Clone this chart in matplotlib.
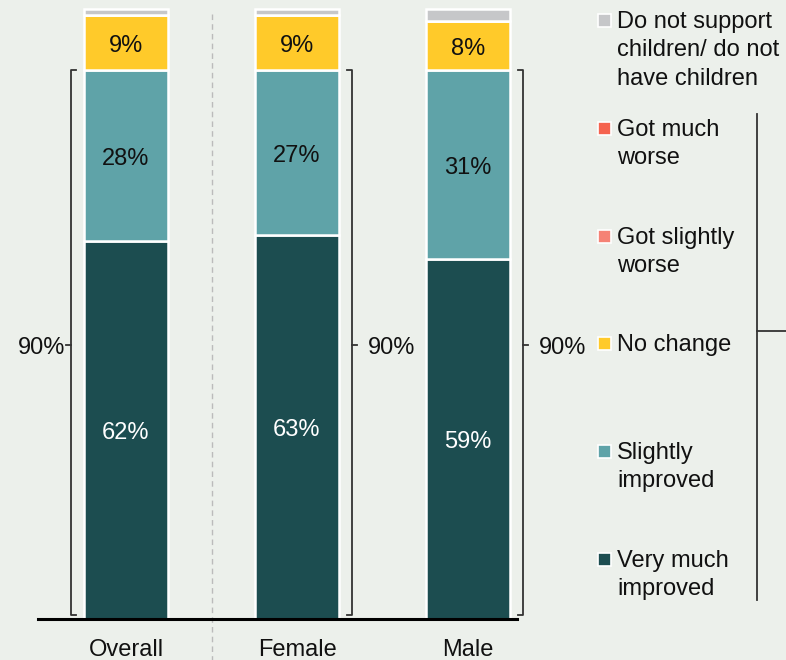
import numpy as np
import matplotlib
matplotlib.use('Agg')
import matplotlib.pyplot as plt

plt.rcParams['font.family'] = ['Liberation Sans', 'DejaVu Sans']

groups = ['Overall', 'Female', 'Male']
veryImproved = [62, 63, 59]
slightImproved = [28, 27, 31]
noChange = [9, 9, 8]
slightWorse = [0, 0, 0]
muchWorse = [0, 0, 0]
noChildren = [1, 1, 2]
improvedTotal = ['90%', '90%', '90%']

legendLabels = ['Do not support\nchildren/ do not\nhave children', 'Got much\nworse',
                'Got slightly\nworse', 'No change', 'Slightly\nimproved', 'Very much\nimproved']

bg = '#ECF0EB'
cDark = '#1C4D50'
cTeal = '#5FA3A8'
cYellow = '#FFCA2A'
cSalmon = '#F58275'
cRed = '#F5634F'
cGray = '#C6C7C9'

fig = plt.figure(figsize=(7.86, 6.6), dpi=100)
fig.patch.set_facecolor(bg)
ax = fig.add_axes([0, 0, 1, 1])
ax.set_facecolor(bg)
ax.axis('off')
ax.set_xlim(-126 / 171, 660 / 171)
ax.set_ylim(-41 / 6.1, 100 + 9 / 6.1)

x = np.arange(len(groups))
w = 0.49
fs = 17
dy = -0.55  # text nudge so label centres sit like the original

series = [(veryImproved, cDark, 'white'), (slightImproved, cTeal, '#111111'),
          (noChange, cYellow, '#111111'), (slightWorse, cSalmon, '#111111'),
          (muchWorse, cRed, '#111111'), (noChildren, cGray, '#111111')]
bottom = np.zeros(len(groups))
for vals, col, tcol in series:
    vals = np.array(vals, dtype=float)
    ax.bar(x, vals, w, bottom=bottom, color=col, edgecolor='white', linewidth=1.8, zorder=3)
    for i in range(len(groups)):
        if vals[i] >= 5:
            ax.text(x[i], bottom[i] + vals[i] / 2 + dy, '%d%%' % vals[i], ha='center', va='center',
                    fontsize=fs, color=tcol, zorder=4)
    bottom += vals

# baseline and divider
ax.plot([-0.515, 2.287], [0, 0], color='black', lw=2.2, zorder=5)
ax.plot([0.5, 0.5], [99.2, -7], color='#BBBBBB', lw=1, ls=(0, (4, 3)), zorder=1)

# brackets for improved share
off = 0.322
tick = 0.03
for i in range(len(groups)):
    top = veryImproved[i] + slightImproved[i]
    side = -1 if i == 0 else 1
    bx = x[i] + side * off
    ax.plot([bx - side * tick, bx, bx, bx - side * tick], [0.6, 0.6, top, top],
            color='#333333', lw=1.3, zorder=2)
    ax.plot([bx, bx + side * tick], [top / 2, top / 2], color='#333333', lw=1.3, zorder=2)
    gap = 0.035 if side < 0 else 0.094
    ax.text(bx + side * gap, top / 2 + dy, improvedTotal[i], ha='right' if side < 0 else 'left',
            va='center', fontsize=fs, color='#111111')

for i, g in enumerate(groups):
    ax.text(x[i], -5.0, g, ha='center', va='center', fontsize=fs, color='#111111')

# legend
legendColors = [cGray, cRed, cSalmon, cYellow, cTeal, cDark]
legendY = [20, 128, 236, 343, 451, 559]
for lab, col, py in zip(legendLabels, legendColors, legendY):
    fig.patches.append(plt.Rectangle(((604 - 6.5) / 786, 1 - (py + 6.5) / 660), 13 / 786, 13 / 660,
                                     transform=fig.transFigure, facecolor=col, edgecolor='white',
                                     linewidth=1.2))
    fig.text(617 / 786, 1 - (py - 9) / 660, lab, ha='left', va='top', fontsize=fs,
             color='#111111', linespacing=1.37)

fig.add_artist(plt.Line2D([757 / 786, 757 / 786], [1 - 114 / 660, 1 - 600 / 660],
                          color='#333333', lw=1.3, transform=fig.transFigure))
fig.add_artist(plt.Line2D([757 / 786, 1], [1 - 331 / 660, 1 - 331 / 660],
                          color='#333333', lw=1.3, transform=fig.transFigure))

fig.savefig('out.png', dpi=100, facecolor=bg)
